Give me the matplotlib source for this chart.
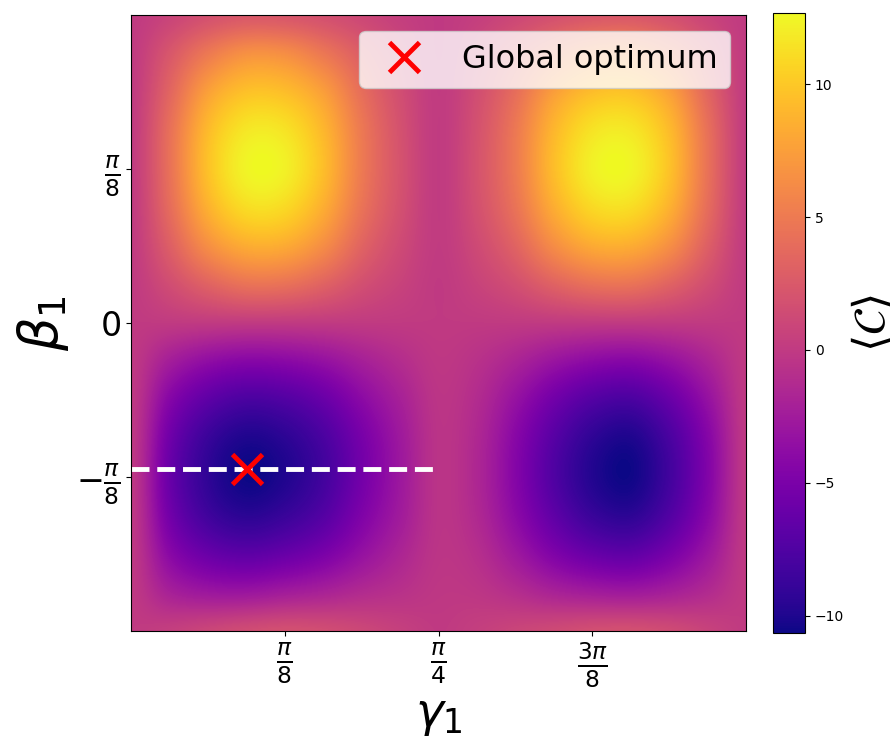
import numpy as np
import matplotlib
matplotlib.use("Agg")
import matplotlib.pyplot as plt


# <C> on a grid
# columns: gamma = 0 .. pi/2 in steps of pi/32, rows: beta = -pi/4 .. pi/4 in steps of pi/32
gamma_grid = np.linspace(0, np.pi / 2, 17)
beta_grid = np.linspace(-np.pi / 4, np.pi / 4, 17)

landscape_rows = [
    [0, 0.4, 1.0, 1.5, 1.8, 1.6, 1.1, 0.5, 0, 0.4, 0.9, 1.3, 1.7, 1.8, 1.4, 0.7, 0],                   # -pi/4
    [0, -2.0, -2.8, -2.9, -2.4, -1.9, -1.2, -0.7, -0.2, -0.3, -1.0, -1.9, -2.4, -2.6, -2.1, -1.2, 0],
    [0, -4.0, -6.0, -6.7, -6.1, -5.0, -3.3, -1.7, -0.4, -0.9, -2.7, -4.7, -6.1, -6.5, -5.1, -2.8, 0],
    [0, -5.4, -8.3, -9.4, -8.7, -7.2, -4.7, -2.5, -0.5, -1.4, -3.9, -6.6, -8.7, -9.3, -7.3, -4.0, 0],
    [0, -6.0, -9.2, -10.6, -9.9, -8.2, -5.4, -2.8, -0.5, -1.6, -4.4, -7.5, -9.8, -10.5, -8.2, -4.5, 0],  # -pi/8
    [0, -5.6, -8.7, -10.0, -9.4, -7.8, -5.2, -2.7, -0.5, -1.5, -4.2, -7.1, -9.3, -10.0, -7.8, -4.3, 0],
    [0, -4.3, -6.7, -7.8, -7.4, -6.1, -4.0, -2.1, -0.4, -1.2, -3.3, -5.6, -7.3, -7.8, -6.1, -3.3, 0],
    [0, -2.3, -3.7, -4.3, -4.1, -3.4, -2.2, -1.1, -0.2, -0.7, -1.8, -3.1, -4.0, -4.3, -3.4, -1.8, 0],
    [0, 0, 0, 0, 0, 0, 0, 0, 0, 0, 0, 0, 0, 0, 0, 0, 0],                                                # 0
    [0, 1.5, 3.2, 4.4, 4.3, 3.2, 1.7, 0.7, 0.0, 0.7, 1.7, 3.2, 4.3, 4.4, 3.2, 1.5, 0],
    [0, 2.9, 6.4, 8.3, 8.2, 6.3, 3.3, 1.3, 0.1, 1.3, 3.3, 6.3, 8.2, 8.3, 6.4, 2.9, 0],
    [0, 3.9, 8.6, 11.1, 10.9, 8.4, 4.5, 1.8, 0.1, 1.8, 4.5, 8.4, 10.9, 11.1, 8.6, 3.9, 0],
    [0, 4.3, 9.6, 12.4, 12.2, 9.4, 5.0, 2.0, 0.1, 2.0, 5.0, 9.4, 12.2, 12.4, 9.6, 4.3, 0],             # pi/8
    [0, 4.2, 9.2, 11.7, 11.5, 9.0, 4.9, 1.9, 0.1, 1.9, 4.9, 9.0, 11.5, 11.7, 9.2, 4.2, 0],
    [0, 3.4, 7.6, 9.6, 9.4, 7.5, 4.1, 1.6, 0.1, 1.6, 4.1, 7.5, 9.4, 9.6, 7.6, 3.4, 0],
    [0, 2.3, 4.9, 6.6, 6.4, 4.8, 2.8, 1.1, 0.0, 1.1, 2.8, 4.8, 6.4, 6.6, 4.9, 2.3, 0],
    [0, 0.8, 1.8, 2.4, 2.3, 1.8, 1.1, 0.4, 0, 0.4, 1.1, 1.8, 2.3, 2.4, 1.8, 0.8, 0],                   # pi/4
]

cost_min = -10.64
cost_max = 12.67

opt_gamma = 0.297
opt_beta = -0.373

x_ticks = [np.pi / 8, np.pi / 4, 3 * np.pi / 8]
x_labels = [r"$\frac{\pi}{8}$", r"$\frac{\pi}{4}$", r"$\frac{3\pi}{8}$"]
y_ticks = [-np.pi / 8, 0, np.pi / 8]
y_labels = [r"$-\frac{\pi}{8}$", r"$0$", r"$\frac{\pi}{8}$"]


landscape = np.array(landscape_rows)

dg = gamma_grid[1] - gamma_grid[0]
db = beta_grid[1] - beta_grid[0]

fig = plt.figure(figsize=(8.96, 7.45), dpi=100)
ax = fig.add_axes([131 / 896, 114 / 745, 615 / 896, 616 / 745])
cax = fig.add_axes([773 / 896, 112 / 745, 32 / 896, 620 / 745])

# catrom passes through the grid values (agg bicubic smooths the peaks away)
im = ax.imshow(landscape, origin="lower", cmap="plasma", aspect="auto",
               interpolation="catrom", vmin=cost_min, vmax=cost_max,
               extent=[gamma_grid[0] - dg / 2, gamma_grid[-1] + dg / 2,
                       beta_grid[0] - db / 2, beta_grid[-1] + db / 2])
ax.set_xlim(gamma_grid[0], gamma_grid[-1])
ax.set_ylim(beta_grid[0], beta_grid[-1])

# line through the optimum up to gamma = pi/4
ax.plot([0, np.pi / 4], [opt_beta, opt_beta], "--", color="white", lw=3.5)
ax.plot(opt_gamma, opt_beta, "x", color="red", ms=21, mew=3.5, ls="none", label="Global optimum")

ax.set_xticks(x_ticks)
ax.set_xticklabels(x_labels, fontsize=24)
ax.set_yticks(y_ticks)
ax.set_yticklabels(y_labels, fontsize=24)
ax.set_xlabel(r"$\gamma_1$", fontsize=34, labelpad=2)
ax.set_ylabel(r"$\beta_1$", fontsize=38)
ax.legend(loc="upper right", fontsize=23)

cb = fig.colorbar(im, cax=cax)
cb.set_label(r"$\langle \mathcal{C} \rangle$", fontsize=32, labelpad=4)

fig.savefig("out.png", dpi=100)
